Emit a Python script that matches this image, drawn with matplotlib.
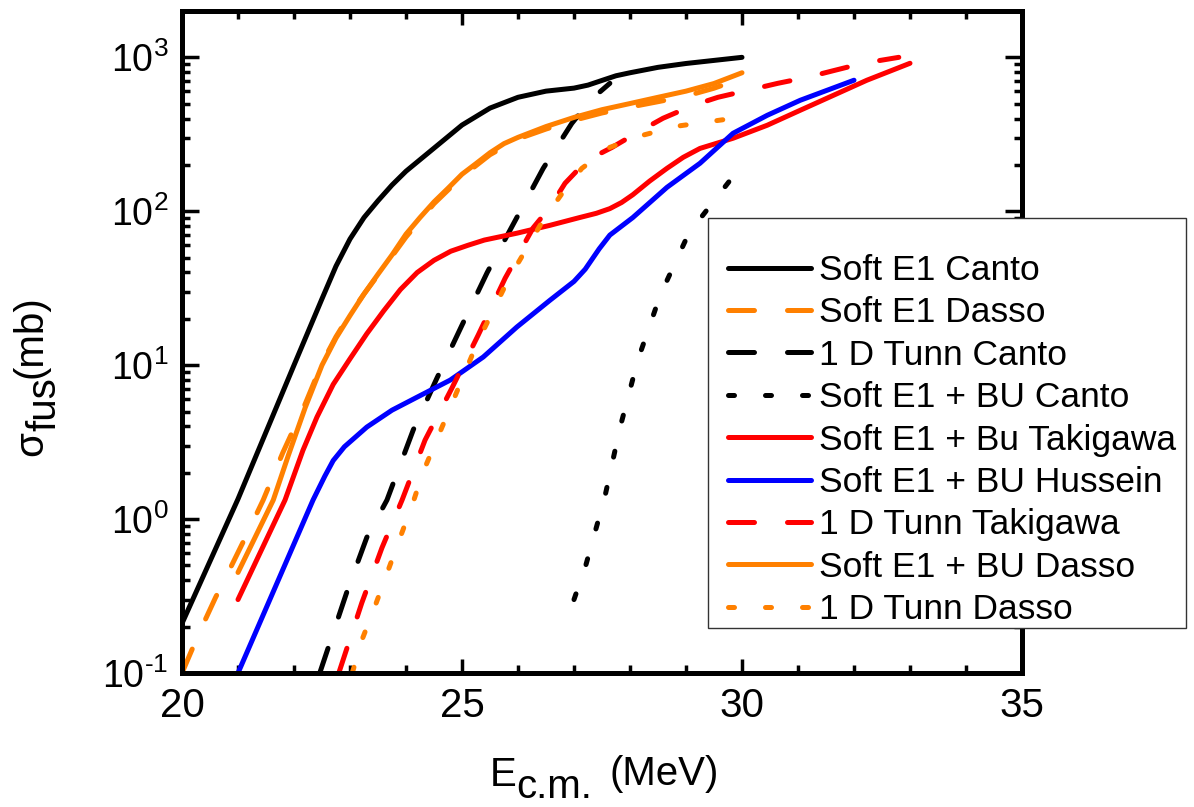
import matplotlib
matplotlib.use('Agg')
import numpy as np
import matplotlib.pyplot as plt
from matplotlib.patches import Rectangle
from matplotlib.ticker import LogLocator, MultipleLocator, FuncFormatter

plt.rcParams['font.family'] = ['Liberation Sans', 'DejaVu Sans']
plt.rcParams['mathtext.fontset'] = 'custom'
plt.rcParams['mathtext.rm'] = 'Liberation Sans'
plt.rcParams['mathtext.it'] = 'Liberation Sans'
plt.rcParams['axes.unicode_minus'] = False

# Soft E1 Canto
e_se1_canto = [20.0, 21.0, 22.0, 22.5, 22.75, 23.0, 23.25, 23.5, 23.75, 24.0, 24.5, 25.0,
               25.5, 26.0, 26.5, 27.0, 27.25, 27.5, 27.75, 28.0, 28.5, 29.0, 29.5, 30.0]
s_se1_canto = [0.21, 1.35, 10, 27, 44, 66, 91, 117, 148, 182, 257, 363,
               468, 550, 603, 631, 660, 708, 759, 794, 861, 912, 955, 1000]

# Soft E1 Dasso
e_se1_dasso = [20.0, 20.3, 20.6, 20.85, 21.1, 21.45, 21.8, 22.2, 22.5, 22.75, 23.0, 23.25,
               23.5, 23.75, 24.0, 24.5, 25.0, 25.5, 26.0, 26.5, 27.0, 27.5, 28.0, 28.5,
               29.0, 29.5, 30.0]
s_se1_dasso = [0.1, 0.18, 0.31, 0.47, 0.72, 1.33, 2.7, 5.6, 10.3, 15.3, 21.5, 29,
               38.5, 51, 68, 112, 168, 233, 295, 342, 390, 435, 475, 515,
               560, 630, 730]

# 1 D Tunn Canto
e_1d_canto = [22.46, 22.96, 23.3, 23.66, 24.13, 24.55, 25.0, 25.45, 25.95, 26.45, 26.96, 27.3, 27.64]
s_1d_canto = [0.1, 0.35, 0.76, 1.33, 3.8, 8.2, 18.2, 40, 87, 190, 372, 530, 678]

# Soft E1 + BU Canto
e_bu_canto = [27.0, 27.21, 27.55, 27.82, 28.14, 28.54, 29.05, 29.85]
s_bu_canto = [0.3, 0.5, 1.39, 3.9, 10.8, 28.5, 72, 170]

# Soft E1 + Bu Takigawa
e_bu_taki = [21.0, 21.84, 22.16, 22.41, 22.7, 23.0, 23.3, 23.6, 23.9, 24.2, 24.5, 24.8,
             25.1, 25.4, 25.98, 26.57, 27.1, 27.4, 27.64, 27.85, 28.05, 28.35, 28.66, 28.95,
             29.25, 29.84, 30.45, 31.04, 31.63, 32.23, 33.0]
s_bu_taki = [0.3, 1.33, 2.8, 4.6, 7.5, 11, 16, 22.5, 31, 40, 48, 55,
             60, 65, 72, 81, 91, 97, 104, 114, 128, 157, 190, 224,
             256, 298, 362, 453, 566, 710, 915]

# Soft E1 + BU Hussein
e_bu_huss = [21.0, 22.34, 22.55, 22.7, 22.9, 23.3, 23.75, 24.2, 24.79, 25.38, 25.98, 26.57,
             27.0, 27.2, 27.45, 27.64, 28.05, 28.66, 29.25, 29.84, 30.45, 31.04, 32.0]
s_bu_huss = [0.1, 1.33, 1.9, 2.4, 2.95, 3.96, 5.1, 6.2, 8.0, 11.3, 17.7, 26.4,
             35, 42, 57, 70, 91, 143, 205, 321, 420, 526, 710]

# 1 D Tunn Takigawa
e_1d_taki = [22.8, 23.21, 23.57, 23.93, 24.34, 24.82, 25.29, 25.77, 26.27, 26.57, 26.84,
             27.23, 27.68, 28.14, 28.59, 29.13, 29.57, 30.1, 30.64, 31.16, 31.66, 32.16, 32.8]
s_1d_taki = [0.1, 0.285, 0.65, 1.33, 3.26, 7.1, 15.7, 36.7, 78, 106, 152,
             214, 260, 326, 402, 488, 550, 610, 678, 741, 824, 915, 1000]

# Soft E1 + BU Dasso
e_bu_dasso = [21.0, 21.63, 21.9, 22.2, 22.5, 22.75, 23.0, 23.25, 23.5, 23.75, 24.0, 24.25,
              24.5, 24.75, 25.0, 25.25, 25.5, 25.75, 26.0, 26.5, 27.0, 27.5, 28.0, 28.5,
              29.0, 29.5, 30.0]
s_bu_dasso = [0.45, 1.33, 2.6, 5.3, 10, 15, 21, 29, 39, 52, 71, 91,
              115, 141, 174, 204, 240, 275, 302, 355, 407, 457, 501, 550,
              603, 676, 794]

# 1 D Tunn Dasso
e_1d_dasso = [23.04, 23.23, 23.46, 23.89, 24.11, 24.3, 24.79, 25.27, 25.82, 26.45, 26.79,
              27.14, 27.64, 28.23, 28.84, 29.46, 29.7]
s_1d_dasso = [0.1, 0.17, 0.28, 0.75, 1.23, 2.0, 5.3, 13.9, 35.6, 87.5, 131,
              190, 260, 312, 357, 384, 395]

ORANGE = '#ff8000'
DASH = (0, (5.2, 6.6))
DOT = (0, (1.2, 6.2))

series = [
    (e_se1_canto, s_se1_canto, 'k', '-', 'Soft E1 Canto'),
    (e_se1_dasso, s_se1_dasso, ORANGE, DASH, 'Soft E1 Dasso'),
    (e_1d_canto, s_1d_canto, 'k', DASH, '1 D Tunn Canto'),
    (e_bu_canto, s_bu_canto, 'k', DOT, 'Soft E1 + BU Canto'),
    (e_bu_taki, s_bu_taki, 'red', '-', 'Soft E1 + Bu Takigawa'),
    (e_bu_huss, s_bu_huss, 'blue', '-', 'Soft E1 + BU Hussein'),
    (e_1d_taki, s_1d_taki, 'red', DASH, '1 D Tunn Takigawa'),
    (e_bu_dasso, s_bu_dasso, ORANGE, '-', 'Soft E1 + BU Dasso'),
    (e_1d_dasso, s_1d_dasso, ORANGE, DOT, '1 D Tunn Dasso'),
]

W, H = 1194, 807
fig = plt.figure(figsize=(W / 100, H / 100), dpi=100)
ax = fig.add_axes([182 / W, 1 - 673 / H, 840 / W, 662 / H])

for x, y, c, ls, lab in series:
    ax.plot(x, y, color=c, linestyle=ls, lw=3.6, label=lab,
            dash_capstyle='round', solid_capstyle='round')

ax.set_yscale('log')
ax.set_xlim(20, 35)
ax.set_ylim(0.1, 2000)
ax.xaxis.set_major_locator(MultipleLocator(5))
ax.xaxis.set_minor_locator(MultipleLocator(1))
ax.yaxis.set_major_locator(LogLocator(base=10, numticks=10))
ax.yaxis.set_minor_locator(LogLocator(base=10, subs=range(2, 10), numticks=20))
ax.yaxis.set_major_formatter(FuncFormatter(
    lambda v, pos: r'$\mathregular{10^{\text{%d}}}$' % round(np.log10(v))))

for sp in ax.spines.values():
    sp.set_linewidth(3.6)
ax.tick_params(which='both', direction='in', top=True, right=True, width=2.5)
ax.tick_params(axis='x', which='major', length=10, pad=10, labelsize=29)
ax.tick_params(axis='y', which='major', length=12, pad=10, labelsize=27)
ax.tick_params(which='minor', length=6)


def px(x, y):
    return x / W, 1 - y / H


# axis labels with full-size lowered subscripts
fig.text(*px(490, 786), 'E', fontsize=29, ha='left', va='baseline')
fig.text(*px(516, 806), 'c.m.', fontsize=29, ha='left', va='bottom')
fig.text(*px(610, 785), '(MeV)', fontsize=29, ha='left', va='baseline')

fig.text(*px(42, 456), 'σ', fontsize=29, rotation=90, rotation_mode='anchor',
         ha='left', va='baseline')
fig.text(*px(55, 431), 'fus', fontsize=29, rotation=90, rotation_mode='anchor',
         ha='left', va='baseline')
fig.text(*px(42, 378), '(mb)', fontsize=29, rotation=90, rotation_mode='anchor',
         ha='left', va='baseline')

# legend box
box = Rectangle(px(708, 628), (1186 - 708) / W, (628 - 218) / H, transform=fig.transFigure,
                facecolor='white', edgecolor='#333333', lw=1.0, zorder=1)
fig.add_artist(box)
handles, labels = ax.get_legend_handles_labels()
leg = fig.legend(handles, labels, loc='upper left', bbox_to_anchor=px(728, 254),
                 fontsize=25.5, frameon=False, handlelength=2.35, handletextpad=0.22,
                 labelspacing=0.265, borderpad=0, borderaxespad=0)
leg.set_zorder(2)

fig.savefig('out.png', dpi=100)
